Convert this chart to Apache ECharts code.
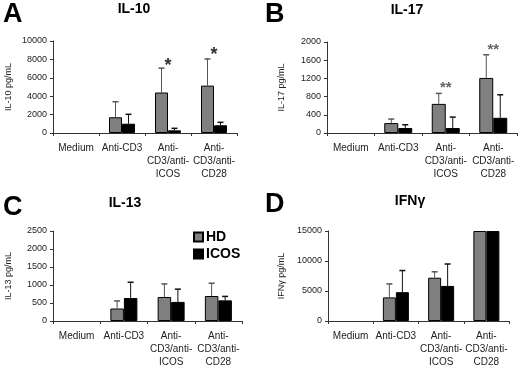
<!DOCTYPE html>
<html><head><meta charset="utf-8">
<script src="https://cdn.jsdelivr.net/npm/echarts@6/dist/echarts.min.js"></script>
<style>html,body{margin:0;padding:0;background:#fff}#c{width:520px;height:369px}</style>
</head><body><div id="c"></div>
<script>
// ---- data ----
const categories = ['Medium', 'Anti-CD3', 'Anti-\nCD3/anti-\nICOS', 'Anti-\nCD3/anti-\nCD28'];
const seriesNames = ['HD', 'ICOS'];

const panelTitles = ['IL-10', 'IL-17', 'IL-13', 'IFNγ'];
const panelLetters = ['A', 'B', 'C', 'D'];
const yAxisNames = ['IL-10 pg/mL', 'IL-17 pg/mL', 'IL-13 pg/mL', 'IFNγ pg/mL'];
const yMax = [10000, 2000, 2500, 15000];
const yInterval = [2000, 400, 500, 5000];

const il10HD = [0, 1710, 4400, 5150];
const il10HDErr = [null, 3400, 7050, 8050];
const il10ICOS = [0, 1010, 290, 840];
const il10ICOSErr = [null, 2030, 510, 1160];
const il10Stars = [null, null, 7830, 9020];

const il17HD = [0, 218, 640, 1210];
const il17HDErr = [null, 306, 870, 1720];
const il17ICOS = [0, 109, 109, 334];
const il17ICOSErr = [null, 181, 350, 840];
const il17Stars = [null, null, 1100, 1930];

const il13HD = [0, 347, 667, 694];
const il13HDErr = [null, 557, 1030, 1049];
const il13ICOS = [0, 639, 530, 574];
const il13ICOSErr = [null, 1076, 885, 683];
const il13Stars = [null, null, null, null];

const ifngHD = [0, 3934, 7213, 15000];
const ifngHDErr = [null, 6180, 8200, null];
const ifngICOS = [0, 4800, 5850, 15000];
const ifngICOSErr = [null, 8410, 9500, null];
const ifngStars = [null, null, null, null];

const starText = ['*', '**', '', ''];

// ---- layout ----
const panels = [
  {hd: il10HD, hdErr: il10HDErr, ic: il10ICOS, icErr: il10ICOSErr, stars: il10Stars},
  {hd: il17HD, hdErr: il17HDErr, ic: il17ICOS, icErr: il17ICOSErr, stars: il17Stars},
  {hd: il13HD, hdErr: il13HDErr, ic: il13ICOS, icErr: il13ICOSErr, stars: il13Stars},
  {hd: ifngHD, hdErr: ifngHDErr, ic: ifngICOS, icErr: ifngICOSErr, stars: ifngStars}
];
const grids = [
  {left: 53, top: 41, width: 184, height: 92},
  {left: 327, top: 42, width: 190, height: 91},
  {left: 53, top: 231, width: 189, height: 92},
  {left: 328, top: 231, width: 181, height: 91}
];
const barW = [13, 14, 13.5, 13];
const nameGaps = [40, 41, 40, 42];
const titlePos = [[134, 9], [407, 10], [125, 203], [410, 201]];
const letterPos = [[3, 15], [265, 15], [3, 208], [265, 205]];
const starFont = [18, 15, 15, 15];
const starColor = ['#333', '#666', '#333', '#333'];

const FONT = 'Liberation Sans, Arial, sans-serif';
const HD_COLOR = '#808080';
const ICOS_COLOR = '#000000';

const option = {
  animation: false,
  backgroundColor: '#fff',
  textStyle: {fontFamily: FONT},
  grid: grids.map(g => Object.assign({containLabel: false}, g)),
  xAxis: grids.map((g, i) => ({
    type: 'category', gridIndex: i, data: categories,
    axisLine: {lineStyle: {color: '#333', width: 1}},
    axisTick: {show: true, alignWithLabel: false, length: 3, lineStyle: {color: '#333'}},
    axisLabel: {interval: 0, fontSize: 10, color: '#222', lineHeight: 13, margin: 9, fontFamily: FONT},
    splitLine: {show: false}
  })),
  yAxis: grids.map((g, i) => ({
    type: 'value', gridIndex: i, min: 0, max: yMax[i], interval: yInterval[i],
    name: yAxisNames[i], nameLocation: 'middle', nameRotate: 90, nameGap: nameGaps[i],
    nameTextStyle: {fontSize: 9, color: '#222', fontFamily: FONT},
    axisLine: {show: true, lineStyle: {color: '#333', width: 1}},
    axisTick: {show: true, length: 3, lineStyle: {color: '#333'}},
    axisLabel: {fontSize: 9, color: '#222', margin: 6, fontFamily: FONT, formatter: v => String(v)},
    splitLine: {show: false}
  })),
  legend: {
    data: seriesNames, orient: 'vertical', left: 188, top: 225,
    itemWidth: 9, itemHeight: 9, itemGap: 3, icon: 'rect',
    textStyle: {fontSize: 14, fontWeight: 'bold', color: '#000', fontFamily: FONT, padding: [0, 0, 0, -2]}
  },
  graphic: [],
  series: []
};

panels.forEach((p, i) => {
  option.graphic.push({
    type: 'text', silent: true,
    style: {text: panelTitles[i], x: titlePos[i][0], y: titlePos[i][1], textAlign: 'center', textVerticalAlign: 'middle',
      font: 'bold 14px ' + FONT, fill: '#000'}
  });
  option.graphic.push({
    type: 'text', silent: true,
    style: {text: panelLetters[i], x: letterPos[i][0], y: letterPos[i][1], textAlign: 'left', textVerticalAlign: 'middle',
      font: 'bold 27px ' + FONT, fill: '#000'}
  });
  ['hd', 'ic'].forEach((k, j) => {
    option.series.push({
      name: seriesNames[j], type: 'bar', xAxisIndex: i, yAxisIndex: i,
      data: p[k].map(v => v === 0 ? {value: 0, itemStyle: {borderWidth: 0, opacity: 0}} : v),
      barWidth: barW[i], barGap: '0%',
      itemStyle: {color: j === 0 ? HD_COLOR : ICOS_COLOR, borderColor: '#000', borderWidth: 1}
    });
  });
  // error bars
  ['hdErr', 'icErr'].forEach((k, j) => {
    const base = j === 0 ? p.hd : p.ic;
    const data = p[k].map((v, c) => v == null ? null : [c, base[c], v]).filter(d => d);
    option.series.push({
      type: 'custom', xAxisIndex: i, yAxisIndex: i, z: 5,
      data: data,
      renderItem: function (params, api) {
        const c = api.value(0);
        const lo = api.coord([c, api.value(1)]);
        const hi = api.coord([c, api.value(2)]);
        const x = lo[0] + (j === 0 ? -barW[i] / 2 : barW[i] / 2);
        const col = j === 0 ? '#555' : '#111';
        return {type: 'group', children: [
          {type: 'line', shape: {x1: x, y1: lo[1], x2: x, y2: hi[1]}, style: {stroke: col, lineWidth: 1}},
          {type: 'line', shape: {x1: x - 3, y1: hi[1], x2: x + 3, y2: hi[1]}, style: {stroke: col, lineWidth: 1.5}}
        ]};
      }
    });
  });
  // significance stars
  const sdata = p.stars.map((v, c) => v == null ? null : [c, v]).filter(d => d);
  if (sdata.length) {
    option.series.push({
      type: 'custom', xAxisIndex: i, yAxisIndex: i, z: 6,
      data: sdata,
      renderItem: function (params, api) {
        const pt = api.coord([api.value(0), api.value(1)]);
        return {type: 'text', style: {text: starText[i], x: pt[0], y: pt[1] + starFont[i] * 0.3,
          textAlign: 'center', textVerticalAlign: 'middle', font: 'bold ' + starFont[i] + 'px ' + FONT, fill: starColor[i]}};
      }
    });
  }
});

const chart = echarts.init(document.getElementById('c'), null, {renderer: 'canvas'});
chart.setOption(option);
</script>
</body></html>
